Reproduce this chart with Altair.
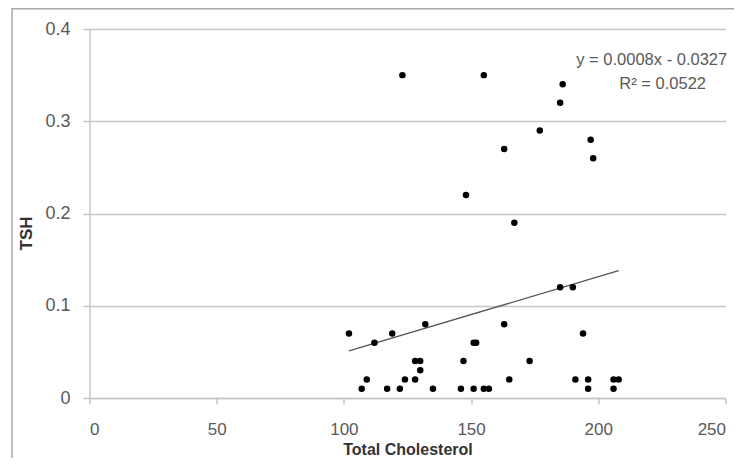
import altair as alt
import pandas as pd

# ---- data ----
chol = [102, 112, 119, 132, 128, 130, 130, 109, 124, 128, 107, 117, 122, 135, 146,
        147, 151, 152, 163, 173, 194, 165, 191, 196, 196, 206, 208, 206, 151, 155,
        157, 185, 190, 123, 155, 186, 185, 177, 197, 163, 198, 148, 167]
tsh = [0.07, 0.06, 0.07, 0.08, 0.04, 0.04, 0.03, 0.02, 0.02, 0.02, 0.01, 0.01, 0.01, 0.01, 0.01,
       0.04, 0.06, 0.06, 0.08, 0.04, 0.07, 0.02, 0.02, 0.02, 0.01, 0.02, 0.02, 0.01, 0.01, 0.01,
       0.01, 0.12, 0.12, 0.35, 0.35, 0.34, 0.32, 0.29, 0.28, 0.27, 0.26, 0.22, 0.19]

trend_x = [102, 208]
trend_y = [0.051, 0.138]

eq_lines = ["y = 0.0008x - 0.0327", "R² = 0.0522"]
eq_x = [221, 225.3]
eq_y = [0.366, 0.340]

x_ticks = [0, 50, 100, 150, 200, 250]
y_ticks = [0, 0.1, 0.2, 0.3, 0.4]

W, H = 636, 369
FONT = "Liberation Sans"
LABEL_COLOR = "#595959"
GRID = "#c6c6c6"

pts = pd.DataFrame({"chol": chol, "tsh": tsh})
trend = pd.DataFrame({"chol": trend_x, "tsh": trend_y})
eq = pd.DataFrame({"chol": eq_x, "tsh": eq_y, "txt": eq_lines})

xscale = alt.Scale(domain=[0, 250], nice=False, zero=False)
yscale = alt.Scale(domain=[0, 0.4], nice=False)

xaxis = alt.Axis(
    values=x_ticks, format="d", grid=False, title="Total Cholesterol",
    domainColor=GRID, domainWidth=1.5, tickColor=GRID, tickWidth=1.5, tickSize=6,
    labelPadding=17, labelFont=FONT, labelFontSize=17, labelColor=LABEL_COLOR,
    titleFont=FONT, titleFontSize=16, titleFontWeight="bold", titleColor="#333333",
    titleX=W / 2, titleY=51, titleBaseline="middle", titleAlign="center",
)
yaxis = alt.Axis(
    values=y_ticks, format="~g", grid=True, gridColor=GRID, gridWidth=1.5,
    title="TSH", domainColor=GRID, domainWidth=1.5, tickColor=GRID, tickWidth=1.5,
    tickSize=6.5, labelPadding=13, labelFont=FONT, labelFontSize=18,
    labelColor=LABEL_COLOR,
    titleFont=FONT, titleFontSize=17, titleFontWeight="bold", titleColor="#333333",
    titleAngle=270, titleX=-63.5, titleY=204, titleBaseline="middle", titleAlign="center",
)

points = alt.Chart(pts).mark_circle(size=42, color="black", opacity=1).encode(
    x=alt.X("chol:Q", scale=xscale, axis=xaxis),
    y=alt.Y("tsh:Q", scale=yscale, axis=yaxis),
)

line = alt.Chart(trend).mark_line(color="#555555", strokeWidth=1.3).encode(
    x=alt.X("chol:Q", scale=xscale),
    y=alt.Y("tsh:Q", scale=yscale),
)

text = alt.Chart(eq).mark_text(
    font=FONT, fontSize=16.5, color=LABEL_COLOR, align="center", baseline="middle"
).encode(
    x=alt.X("chol:Q", scale=xscale),
    y=alt.Y("tsh:Q", scale=yscale),
    text="txt:N",
)

frame_v = alt.Chart(pd.DataFrame({"a": [0]})).mark_rule(color="#a8a8a8", strokeWidth=1.5).encode(
    x=alt.value(-77.5), y=alt.value(-21), y2=alt.value(H + 120)
)
frame_h = alt.Chart(pd.DataFrame({"a": [0]})).mark_rule(color="#a8a8a8", strokeWidth=1.5).encode(
    x=alt.value(-77.5), x2=alt.value(W + 120), y=alt.value(-20.3)
)

chart = alt.layer(line, points, text, frame_v, frame_h).properties(
    width=W, height=H,
    autosize=alt.AutoSizeParams(type="none"),
    padding={"left": 81.5, "top": 21, "right": 8, "bottom": 60},
    background="white",
).configure_view(stroke=None)

chart.save("out.html", embed_options={"renderer": "svg", "actions": False})
